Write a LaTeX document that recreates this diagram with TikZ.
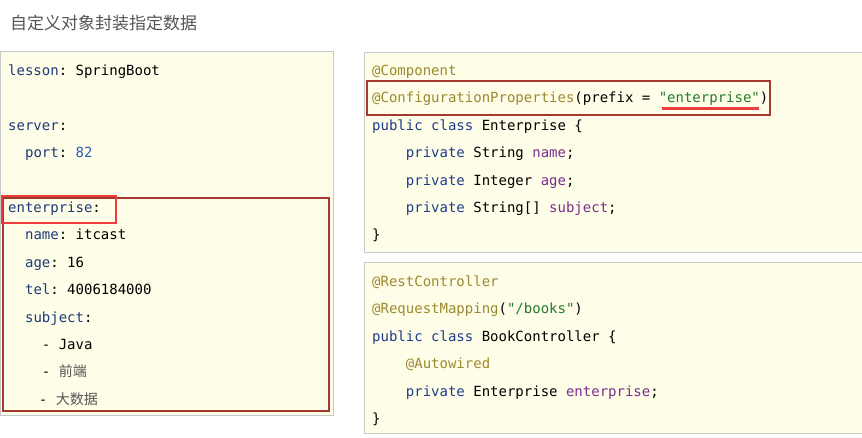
\documentclass[tikz,border=0pt]{standalone}
\usepackage{fontspec}
\setmonofont{DejaVu Sans Mono}
\newfontfamily\cjk{Noto Sans CJK SC}
\definecolor{paper}{HTML}{FEFDE8}
\definecolor{frame}{HTML}{C9C9C9}
\definecolor{yamlkey}{HTML}{1E3A78}
\definecolor{numblue}{HTML}{2F5DB8}
\definecolor{kw}{HTML}{1F3B8C}
\definecolor{field}{HTML}{7B2E8E}
\definecolor{annot}{HTML}{9C8A2E}
\definecolor{str}{HTML}{267A2E}
\definecolor{cjkgray}{HTML}{555555}
\definecolor{boxred}{HTML}{A33A2C}
\definecolor{hired}{HTML}{EE3B3B}
\tikzset{
  code/.style={anchor=base west, inner sep=0pt, font=\ttfamily\fontsize{14}{16}\selectfont},
  panel/.style={fill=paper, draw=frame, line width=1pt},
}
\newcommand{\ky}[1]{\textcolor{yamlkey}{#1}}
\newcommand{\kw}[1]{\textcolor{kw}{#1}}
\newcommand{\an}[1]{\textcolor{annot}{#1}}
\newcommand{\fd}[1]{\textcolor{field}{#1}}
\newcommand{\zh}[1]{{\color{cjkgray}\cjk #1}}
\begin{document}
\begin{tikzpicture}[x=1pt,y=-1pt]
\useasboundingbox (0,0) rectangle (862,437);

%Title
\node[anchor=west, inner sep=0pt, text=cjkgray, font=\cjk\fontsize{17}{17}\selectfont] (title) at (10,23) {自定义对象封装指定数据};

%Panels
\draw[panel] (0.5,51) rectangle (333,415);
\draw[panel] (364,52) rectangle (872,252);
\draw[panel] (364,262) rectangle (872,433);

% YAML file
\node[code] (lesson) at (8,75.5) {\ky{lesson}: SpringBoot};
\node[code] (server) at (8,130.3) {\ky{server}:};
\node[code] (port) at (24.9,157.7) {\ky{port}: \textcolor{numblue}{82}};
\node[code] (ent) at (8,212.5) {\ky{enterprise}:};
\node[code] (name) at (24.9,239.9) {\ky{name}: itcast};
\node[code] (age) at (24.9,267.3) {\ky{age}: 16};
\node[code] (tel) at (24.9,294.7) {\ky{tel}: 4006184000};
\node[code] (subject) at (24.9,322.1) {\ky{subject}:};
\node[code] (java) at (41.7,349.5) {- Java};
\node[code] (front) at (41.7,376.9) {- \zh{前端}};
\node[code] (bigdata) at (38.7,404.3) {- \zh{大数据}};

% Enterprise class
\node[code] (comp) at (372,75.5) {\an{@Component}};
\node[code] (config) at (372,102.9) {\an{@ConfigurationProperties}(prefix = \textcolor{str}{"enterprise"})};
\node[code] (cls) at (372,130.3) {\kw{public} \kw{class} Enterprise \{};
\node[code] (fname) at (405.7,157.7) {\kw{private} String \fd{name};};
\node[code] (fage) at (405.7,185.1) {\kw{private} Integer \fd{age};};
\node[code] (fsubj) at (405.7,212.5) {\kw{private} String[] \fd{subject};};
\node[code] (clsend) at (372,239.9) {\}};

% BookController class
\node[code] (rest) at (372,286.5) {\an{@RestController}};
\node[code] (mapping) at (372,313.9) {\an{@RequestMapping}(\textcolor{str}{"/books"})};
\node[code] (ctrl) at (372,341.3) {\kw{public} \kw{class} BookController \{};
\node[code] (auto) at (405.7,368.7) {\an{@Autowired}};
\node[code] (fent) at (405.7,396.1) {\kw{private} Enterprise \fd{enterprise};};
\node[code] (ctrlend) at (372,423.5) {\}};

%Highlights
\draw[boxred, line width=2pt] (3,198) rectangle (329,411);
\draw[hired, line width=2.5pt] (2,196) rectangle (116,223);
\draw[boxred, line width=2pt] (367,81) rectangle (770,115);
\draw[hired, line width=2.5pt] (662,108.5) -- (759,108.5);
\end{tikzpicture}
\end{document}
